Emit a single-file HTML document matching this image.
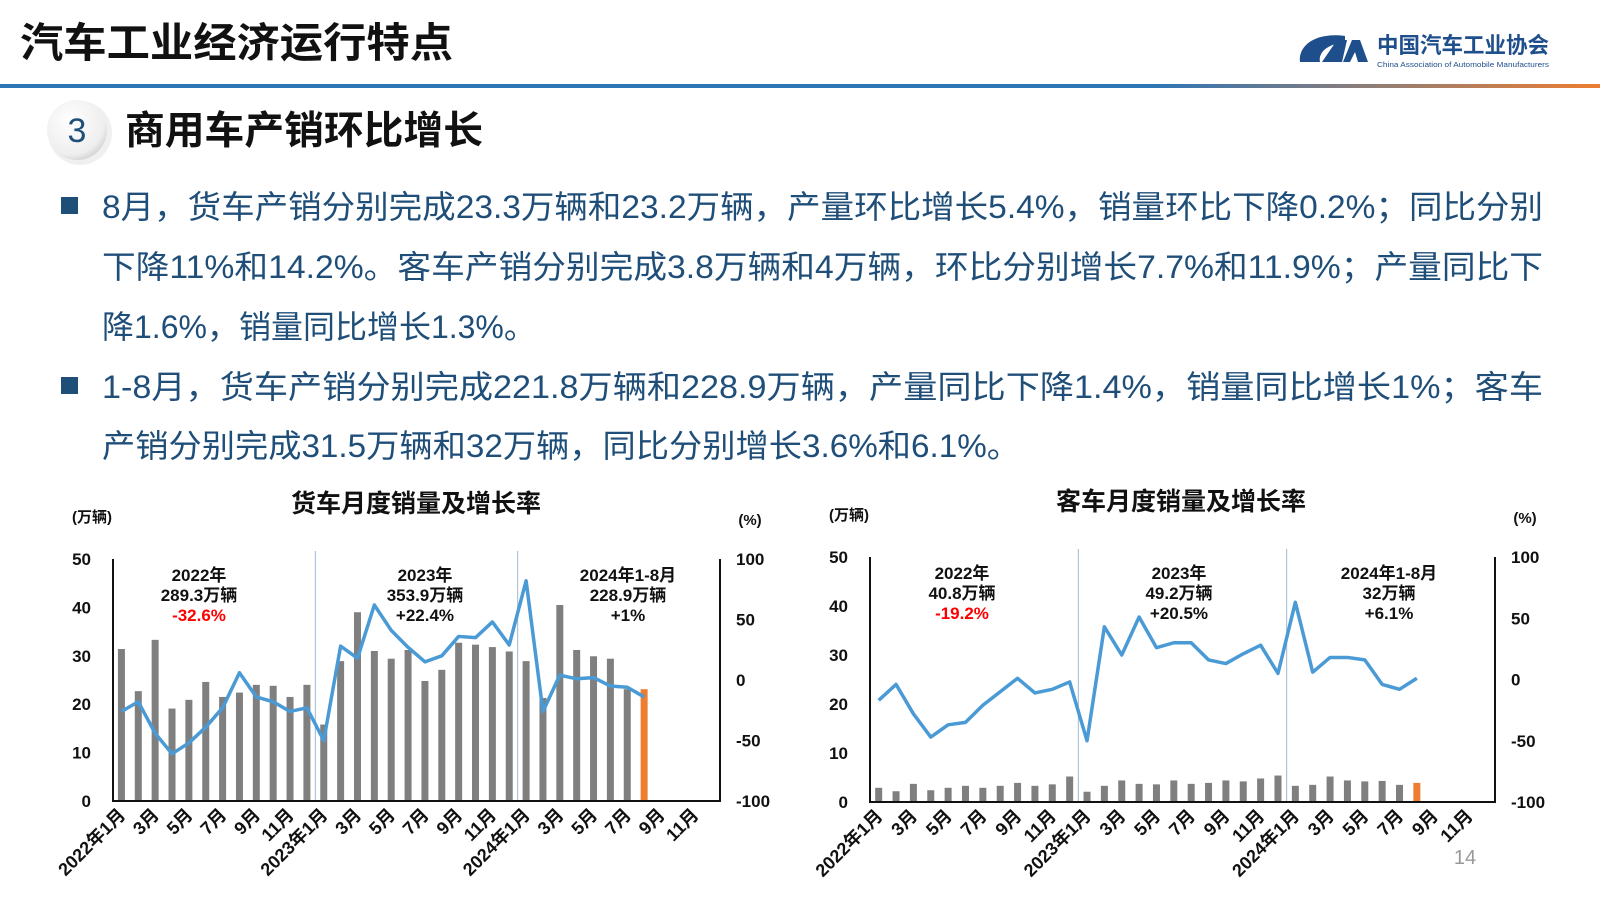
<!DOCTYPE html>
<html><head><meta charset="utf-8">
<style>
body{margin:0;width:1600px;height:899px;overflow:hidden;background:#fff;font-family:"Liberation Sans","Noto Sans CJK SC",sans-serif;}
svg text{font-family:"Liberation Sans","Noto Sans CJK SC",sans-serif;}
</style></head>
<body>
<svg id="page" width="1600" height="899" viewBox="0 0 1600 899" xmlns="http://www.w3.org/2000/svg">
<defs>
<linearGradient id="hl" x1="0" x2="1" y1="0" y2="0"><stop offset="0" stop-color="#2e75b6"/><stop offset="0.72" stop-color="#2e75b6"/><stop offset="0.85" stop-color="#8a7d7a"/><stop offset="1" stop-color="#ed7d31"/></linearGradient>
<radialGradient id="cg" cx="0.4" cy="0.35" r="0.7"><stop offset="0" stop-color="#ffffff"/><stop offset="0.8" stop-color="#eeeeee"/><stop offset="1" stop-color="#cfcfcf"/></radialGradient>
</defs>
<text x="20" y="57" font-size="41" font-weight="bold" fill="#111" textLength="433" lengthAdjust="spacingAndGlyphs">汽车工业经济运行特点</text>
<rect x="0" y="84" width="1600" height="4" fill="url(#hl)"/>
<g>
<path d="M1345 36 C1315 32 1298 46 1300 62 L1320 62 C1318 52 1328 44 1345 42 Z" fill="#1f4e8c"/>
<path d="M1322 62 L1337 40 L1347 40 L1342 62 Z M1343 62 L1352 40 L1360 40 L1368 62 L1358 62 L1355 52 L1350 62 Z" fill="#1f4e8c"/>
<text x="1377" y="53" font-size="22" font-weight="bold" fill="#1f4e8c" textLength="172" lengthAdjust="spacingAndGlyphs">中国汽车工业协会</text>
<text x="1377" y="67" font-size="7.5" fill="#1f4e8c" textLength="172" lengthAdjust="spacingAndGlyphs">China Association of Automobile Manufacturers</text>
</g>
<g>
<circle cx="80" cy="133" r="32" fill="#e6e6e6" opacity="0.6"/>
<circle cx="77" cy="130" r="30" fill="url(#cg)"/>
<text x="77" y="142" font-size="34" text-anchor="middle" fill="#1f4e79">3</text>
</g>
<text x="125" y="144" font-size="39" font-weight="bold" fill="#111" textLength="358" lengthAdjust="spacingAndGlyphs">商用车产销环比增长</text>
<g font-size="32" fill="#1f4e79">
<rect x="61" y="197" width="17" height="17" fill="#1f4e79"/>
<rect x="61" y="377" width="17" height="17" fill="#1f4e79"/>
<text x="102" y="218" textLength="1441" lengthAdjust="spacingAndGlyphs">8月，货车产销分别完成23.3万辆和23.2万辆，产量环比增长5.4%，销量环比下降0.2%；同比分别</text>
<text x="102" y="278" textLength="1441" lengthAdjust="spacingAndGlyphs">下降11%和14.2%。客车产销分别完成3.8万辆和4万辆，环比分别增长7.7%和11.9%；产量同比下</text>
<text x="102" y="338">降1.6%，销量同比增长1.3%。</text>
<text x="102" y="398" textLength="1441" lengthAdjust="spacingAndGlyphs">1-8月，货车产销分别完成221.8万辆和228.9万辆，产量同比下降1.4%，销量同比增长1%；客车</text>
<text x="102" y="457" textLength="918" lengthAdjust="spacingAndGlyphs">产销分别完成31.5万辆和32万辆，同比分别增长3.6%和6.1%。</text>
</g>
<g id="chartL"></g>
<g id="chartR"></g>
<text x="1465" y="864" font-size="20" fill="#999" text-anchor="middle">14</text>
</svg>
<script>
const months = ["2022年1月","2月","3月","4月","5月","6月","7月","8月","9月","10月","11月","12月","2023年1月","2月","3月","4月","5月","6月","7月","8月","9月","10月","11月","12月","2024年1月","2月","3月","4月","5月","6月","7月","8月","9月","10月","11月","12月"];
const truckSales = [31.4,22.7,33.3,19.1,20.9,24.6,21.5,22.4,24.0,23.8,21.5,24.0,15.8,28.9,39.0,31.0,29.4,31.2,24.8,27.1,32.7,32.3,31.8,30.9,28.9,21.3,40.5,31.2,29.9,29.4,23.1,23.1];
const truckGrowth = [-26,-18,-44,-61,-52,-39,-23,6,-14,-18,-26,-23,-50,28,18,62,41,27,15,20,36,35,48,29,82,-26,4,1,2,-5,-6,-14];
const busSales = [2.9,2.2,3.7,2.4,2.9,3.3,2.9,3.3,3.9,3.3,3.6,5.2,2.1,3.3,4.4,3.7,3.6,4.4,3.7,3.9,4.4,4.2,4.8,5.4,3.3,3.5,5.2,4.4,4.2,4.3,3.5,3.9];
const busGrowth = [-17,-4,-28,-47,-37,-35,-21,-10,1,-11,-8,-2,-50,43,20,51,26,30,30,16,13,21,28,5,63,6,18,18,16,-4,-8,1];
const leftTicks = [0,10,20,30,40,50];
const rightTicks = [-100,-50,0,50,100];
const truckNotes = [["2022年","289.3万辆","-32.6%"],["2023年","353.9万辆","+22.4%"],["2024年1-8月","228.9万辆","+1%"]];
const busNotes = [["2022年","40.8万辆","-19.2%"],["2023年","49.2万辆","+20.5%"],["2024年1-8月","32万辆","+6.1%"]];
const NS="http://www.w3.org/2000/svg";
function mk(parent,tag,attrs,txt){const e=document.createElementNS(NS,tag);for(const k in attrs)e.setAttribute(k,attrs[k]);if(txt!==undefined)e.textContent=txt;parent.appendChild(e);return e;}
function draw(g,cfg,sales,growth,notes){
  const x0=cfg.x0,x1=cfg.x1,yTop=cfg.yTop,yBot=cfg.yBot;
  const slot=(x1-x0)/months.length;
  const xs=i=>x0+(i+0.5)*slot;
  const yL=v=>yBot-(v/50)*(yBot-yTop);
  const yR=v=>yBot-((v+100)/200)*(yBot-yTop);
  const t=mk(g,'text',{x:cfg.titleX,y:yTop-47,'font-size':25,'font-weight':'bold','text-anchor':'middle',fill:'#111'},cfg.title);
  
  
  const u1=mk(g,'text',{x:x0-41,y:yTop-37,'font-size':15,'font-weight':'bold',fill:'#111'},'(万辆)');
  
  
  const u2=mk(g,'text',{x:x1+30,y:yTop-34,'font-size':15,'font-weight':'bold','text-anchor':'middle',fill:'#111'},'(%)');
  
  
  leftTicks.forEach(v=>{const e=mk(g,'text',{x:x0-22,y:yL(v)+6,'font-size':17,'font-weight':'bold','text-anchor':'end',fill:'#111'},v);
    
    });
  rightTicks.forEach(v=>{const e=mk(g,'text',{x:x1+16,y:yR(v)+6,'font-size':17,'font-weight':'bold',fill:'#111'},v);
    
    });
  [12,24].forEach(i=>{const e=mk(g,'line',{x1:x0+i*slot,x2:x0+i*slot,y1:yTop-8,y2:yBot,stroke:'#9db8d2','stroke-width':1});
    
    });
  sales.forEach((v,i)=>{const last=i===sales.length-1;
    const r=mk(g,'rect',{x:xs(i)-3.5,y:yL(v),width:7,height:yBot-yL(v),fill:last?'#ed7d31':'#7f7f7f'});
    
    });
  const p=mk(g,'polyline',{points:growth.map((v,i)=>xs(i)+','+yR(v)).join(' '),fill:'none',stroke:'#4a9ad6','stroke-width':3.5,'stroke-linejoin':'round'});
  
  
  const ax=mk(g,'path',{d:`M${x0} ${yTop} V${yBot} H${x1} V${yTop}`,fill:'none',stroke:'#111','stroke-width':2});
  
  
  months.forEach((m,i)=>{if(i%2)return;
    const lx=xs(i)+5,ly=yBot+15;
    const e=mk(g,'text',{x:lx,y:ly,'font-size':18,'font-weight':'bold','text-anchor':'end',fill:'#111',transform:`rotate(-45 ${lx} ${ly})`},m);
    
    });
  notes.forEach((n,k)=>{const cx=cfg.noteX[k];
    n.forEach((s,j)=>{const e=mk(g,'text',{x:cx,y:yTop+22+j*20,'font-size':17,'font-weight':'bold','text-anchor':'middle',fill:(j===2&&s[0]==='-')?'#ff0000':'#111'},s);
      
      });});
}
draw(document.getElementById('chartL'),{x0:113,x1:720,yTop:559,yBot:801,title:'货车月度销量及增长率',titleX:416,noteX:[199,425,628]},truckSales,truckGrowth,truckNotes);
draw(document.getElementById('chartR'),{x0:870,x1:1495,yTop:557,yBot:802,title:'客车月度销量及增长率',titleX:1181,noteX:[962,1179,1389]},busSales,busGrowth,busNotes);
</script>
</body></html>
